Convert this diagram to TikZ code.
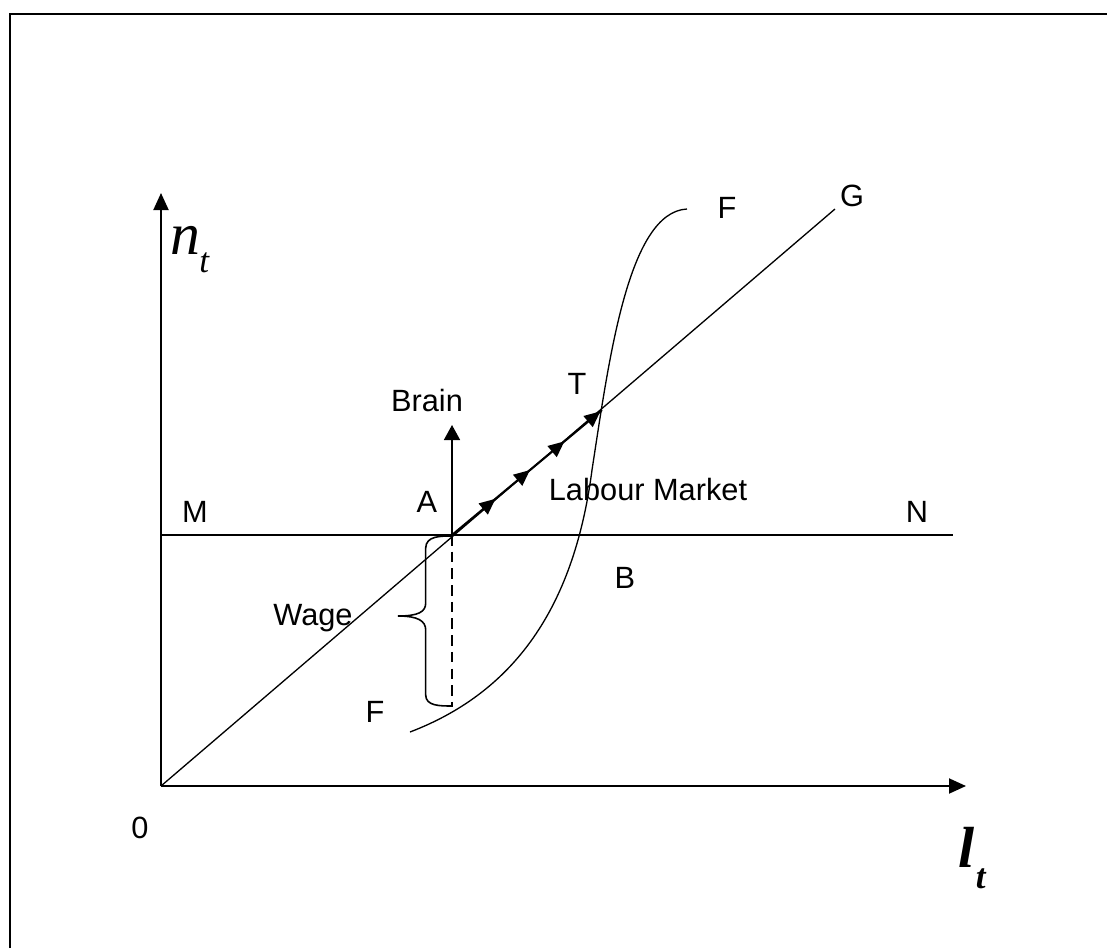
\documentclass[tikz,border=0pt]{standalone}
\usepackage{fontspec}
\setmainfont{Liberation Sans}
\newfontfamily\serifit{Liberation Serif}
\usetikzlibrary{arrows.meta,decorations.markings}
\begin{document}
\begin{tikzpicture}[x=0.02cm,y=-0.02cm,
  lbl/.style={font=\fontsize{17.5}{20}\selectfont, inner sep=0pt},
  axis/.style={line width=1.1pt, -{Triangle[length=0.34cm,width=0.3cm]}},
  thin/.style={line width=0.75pt},
  flowarrows/.style={line width=1.2pt, postaction={decorate}, decoration={markings,
     mark=at position 0.29 with {\arrow{Triangle[length=0.32cm,width=0.28cm]}},
     mark=at position 0.52 with {\arrow{Triangle[length=0.32cm,width=0.28cm]}},
     mark=at position 0.75 with {\arrow{Triangle[length=0.32cm,width=0.28cm]}},
     mark=at position 0.99 with {\arrow{Triangle[length=0.32cm,width=0.28cm]}}}}
  ]
\useasboundingbox (0,0) rectangle (1107,948);
% frame
\draw[line width=1.1pt] (10,948) -- (10,14) -- (1107,14);
% coordinates
\coordinate (O) at (161,786);
\coordinate (ytip) at (161,193);
\coordinate (xtip) at (966,786);
\coordinate (Mleft) at (161,535);
\coordinate (Nright) at (953,535);
\coordinate (A) at (452,535);
\coordinate (T) at (602,410);
\coordinate (Gend) at (835,209);
\coordinate (braintip) at (452,425);
\coordinate (dashend) at (452,707);
\coordinate (Fstart) at (410,732);
\coordinate (Fmid) at (592,470);
\coordinate (Fend) at (687,209);
% axes
\draw[axis] (O) -- (ytip);
\draw[axis] (O) -- (xtip);
% horizontal line MN
\draw[thin] (Mleft) -- (Nright);
% diagonal OG
\draw[thin] (O) -- (Gend);
% path A -> T with arrows
\draw[flowarrows] (A) -- (T);
% brain arrow
\draw[line width=0.9pt, -{Triangle[length=0.3cm,width=0.32cm]}] (A) -- (braintip);
% dashed
\draw[thin, dashed, dash pattern=on 6pt off 3.5pt] (A) -- (dashend);
% brace
\draw[line width=0.9pt] (452,536) .. controls (440,536) and (426,536) .. (425.7,548)
  -- (425.7,603) .. controls (425.7,612) and (418,616) .. (398,616)
  .. controls (418,616) and (425.7,621) .. (425.7,630)
  -- (425.7,695) .. controls (425.7,706) and (440,706) .. (452,706);
% F curve
\draw[thin] (Fstart) .. controls (520,690) and (575,600) .. (Fmid)
  .. controls (609,360) and (628,212) .. (Fend);
% labels
\node[lbl] (lM) at (195,512) {M};
\node[lbl] (lN) at (917,512) {N};
\node[lbl] (lA) at (427,502) {A};
\node[lbl] (lBrain) at (427,401) {Brain};
\node[lbl] (lT) at (577,384) {T};
\node[lbl] (lLabour) at (648,490) {Labour Market};
\node[lbl] (lB) at (625,578) {B};
\node[lbl] (lWage) at (313,618) {Wage};
\node[lbl] (lF1) at (375,712) {F};
\node[lbl] (lF2) at (727,208) {F};
\node[lbl] (lG) at (852,196) {G};
\node[lbl] (l0) at (140,828) {0};
\node[font=\fontsize{34}{36}\selectfont\serifit\itshape, inner sep=0pt] (nt) at (190,250) {n\kern-0.02em\raisebox{-0.3em}{\fontsize{20}{22}\selectfont t}};
\node[font=\fontsize{33}{36}\selectfont\serifit\bfseries\itshape, inner sep=0pt] (lt) at (972,858) {l\kern0.02em\raisebox{-0.35em}{\fontsize{20}{22}\selectfont t}};
\end{tikzpicture}
\end{document}
